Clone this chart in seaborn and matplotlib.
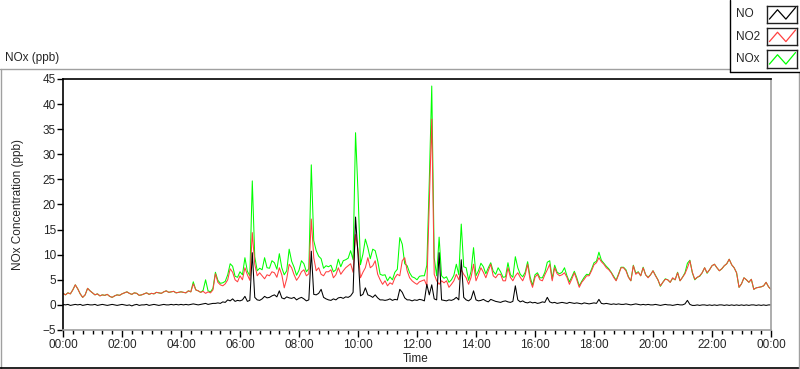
import numpy as np
import pandas as pd
import matplotlib
matplotlib.use("Agg")
import matplotlib.pyplot as plt
from matplotlib.lines import Line2D
from matplotlib.ticker import MultipleLocator, FuncFormatter
import seaborn as sns

# =============================================================================
# DATA (5-minute readings, 00:00 .. 24:00, ppb)
# =============================================================================

minutes = np.arange(0, 24 * 60 + 1, 5)

no2_ppb = [
    2.3, 2.0, 2.4, 2.2, 3.0, 4.0, 3.2, 2.2, 1.5, 2.0, 3.3, 2.8,
    2.4, 2.0, 2.2, 1.8, 2.0, 1.9, 2.1, 1.7, 1.5, 1.8, 2.0, 1.9,
    2.2, 2.4, 2.6, 2.3, 2.1, 2.4, 2.3, 1.9, 2.0, 2.2, 2.4, 2.1,
    2.3, 2.2, 2.5, 2.4, 2.3, 2.6, 2.8, 2.5, 2.6, 2.7, 2.4, 2.5,
    2.6, 2.5, 2.4, 2.8, 2.6, 4.2, 3.0, 2.8, 2.5, 2.7, 2.3, 2.6,
    2.4, 3.0, 6.2, 4.5, 4.0, 3.8, 4.2, 5.0, 7.2, 6.5, 5.0, 4.6,
    5.8, 5.0, 7.4, 6.0, 4.9, 14.4, 8.1, 5.8, 6.4, 5.8, 5.2, 6.0,
    5.8, 6.6, 6.4, 5.5, 7.4, 6.0, 3.4, 5.2, 8.1, 7.4, 6.0, 4.9,
    5.6, 6.6, 7.0, 5.8, 6.2, 17.1, 9.4, 6.8, 7.4, 6.1, 5.8, 6.6,
    6.6, 7.0, 5.4, 6.0, 7.4, 6.1, 6.8, 7.4, 7.8, 8.2, 6.5, 14.0,
    11.0, 5.4, 6.5, 7.4, 9.4, 7.4, 7.8, 8.8, 6.1, 5.0, 4.1, 4.8,
    3.8, 4.4, 4.1, 5.4, 6.1, 5.8, 8.8, 9.4, 6.8, 5.4, 4.8, 4.4,
    4.1, 4.6, 4.8, 5.0, 3.8, 20.7, 37.0, 6.1, 4.8, 4.1, 4.8, 4.4,
    4.8, 3.5, 4.1, 4.8, 6.1, 5.0, 7.0, 6.1, 5.4, 4.1, 5.5, 8.1,
    4.8, 6.0, 7.4, 6.5, 5.4, 6.8, 8.1, 5.8, 5.4, 6.1, 6.1, 4.8,
    4.8, 7.4, 5.5, 4.8, 5.8, 6.4, 5.5, 4.8, 6.0, 8.1, 5.0, 3.5,
    5.5, 6.1, 5.0, 4.8, 6.0, 7.0, 8.1, 4.8, 7.4, 6.2, 5.8, 6.0,
    6.4, 5.5, 4.1, 5.2, 6.4, 5.0, 3.5, 4.5, 5.1, 5.8, 5.8, 6.8,
    8.0, 8.4, 9.4, 8.6, 8.1, 7.4, 7.0, 6.4, 5.5, 4.8, 6.0, 7.4,
    7.4, 6.8, 5.5, 4.8, 7.8, 6.1, 6.5, 5.8, 7.4, 6.0, 5.4, 6.0,
    6.8, 5.8, 5.0, 3.8, 4.5, 5.1, 5.0, 4.5, 5.4, 5.0, 6.4, 4.8,
    5.5, 6.2, 7.4, 8.8, 6.5, 5.1, 5.5, 5.8, 6.4, 7.4, 6.4, 7.0,
    7.8, 8.1, 7.4, 6.8, 7.2, 7.8, 8.2, 9.1, 8.0, 7.4, 6.4, 3.5,
    4.2, 5.4, 5.0, 4.5, 5.1, 3.1, 3.4, 3.5, 3.6, 3.8, 4.5, 3.6,
    3.1,
]

no_ppb = [
    0.1, 0.0, 0.1, -0.1, 0.0, 0.1, 0.0, 0.1, -0.1, 0.0, 0.1, 0.0,
    0.0, 0.1, -0.1, 0.0, 0.1, 0.0, -0.1, 0.0, 0.1, 0.0, -0.1, 0.0,
    0.1, 0.0, -0.1, 0.0, -0.2, 0.0, 0.1, -0.1, 0.0, 0.0, 0.1, -0.1,
    0.0, 0.1, 0.0, -0.1, 0.0, 0.1, 0.0, 0.0, 0.1, 0.0, 0.1, 0.0,
    0.1, 0.0, 0.1, 0.0, 0.1, 0.2, 0.1, 0.0, 0.1, 0.2, 0.3, 0.1,
    0.2, 0.3, 0.3, 0.4, 0.3, 0.6, 0.5, 1.0, 0.8, 1.2, 0.7, 0.9,
    0.8, 1.0, 1.7, 0.7, 0.9, 10.4, 1.5, 1.0, 0.9, 1.2, 1.7, 1.4,
    1.5, 1.8, 2.0, 1.6, 2.8, 1.4, 1.2, 1.6, 1.4, 1.3, 1.5, 1.0,
    1.3, 1.5, 1.2, 0.8, 1.0, 10.7, 2.1, 2.0, 2.3, 3.1, 1.5, 1.2,
    1.0, 0.9, 1.2, 1.0, 1.4, 1.5, 1.3, 1.6, 1.5, 1.8, 2.5, 17.5,
    10.0, 1.8, 2.1, 3.4, 2.0, 1.8, 1.5, 2.0, 1.4, 1.0, 1.0, 0.9,
    1.0, 1.2, 0.9, 1.1, 1.0, 3.1, 2.5, 1.4, 1.0, 1.0, 0.8, 1.0,
    0.9, 1.1, 1.0, 0.8, 4.1, 2.0, 4.0, 1.2, 1.0, 10.4, 1.0, 0.9,
    0.8, 1.0, 0.9, 1.1, 1.5, 1.0, 9.0, 1.5, 1.0, 0.8, 1.2, 2.8,
    1.0, 0.8, 0.9, 1.1, 0.8, 0.6, 1.1, 0.9, 0.7, 0.6, 0.5, 0.7,
    0.8, 0.6, 0.5, 0.7, 3.8, 1.0, 0.6, 0.8, 0.5, 0.4, 0.6, 0.4,
    0.5, 0.3, 0.4, 0.6, 0.5, 1.5, 0.6, 0.4, 0.5, 0.3, 0.4, 0.5,
    0.4, 0.3, 0.5, 0.4, 0.3, 0.4, 0.3, 0.2, 0.4, 0.3, 0.2, 0.3,
    0.4, 0.3, 1.1, 0.3, 0.2, 0.3, 0.2, 0.1, 0.2, 0.1, 0.2, 0.1,
    0.1, 0.2, 0.1, 0.0, 0.1, 0.2, 0.1, 0.0, 0.1, 0.0, 0.1, 0.0,
    0.0, 0.1, 0.0, -0.1, 0.0, 0.1, 0.0, 0.0, -0.1, 0.0, 0.1, 0.0,
    0.0, 0.2, 0.9, 0.1, -0.1, -0.1, 0.0, -0.1, 0.0, 0.0, -0.1, 0.0,
    -0.1, 0.0, -0.1, 0.0, 0.0, -0.1, 0.0, -0.1, 0.0, -0.1, 0.0, -0.1,
    0.0, -0.1, 0.0, -0.1, 0.0, 0.0, -0.1, 0.0, -0.1, 0.0, -0.1, 0.0,
    0.0,
]

nox_ppb = [
    2.3, 2.0, 2.4, 2.2, 3.0, 4.0, 3.2, 2.2, 1.5, 2.0, 3.3, 2.8,
    2.4, 2.0, 2.2, 1.8, 2.0, 1.9, 2.1, 1.7, 1.5, 1.8, 2.0, 1.9,
    2.2, 2.4, 2.6, 2.3, 2.1, 2.4, 2.3, 1.9, 2.0, 2.2, 2.4, 2.1,
    2.3, 2.2, 2.5, 2.4, 2.3, 2.6, 2.8, 2.5, 2.6, 2.7, 2.4, 2.5,
    2.6, 2.5, 2.4, 2.8, 2.6, 4.6, 3.0, 2.8, 2.5, 2.9, 5.0, 2.8,
    2.6, 3.3, 6.5, 4.9, 4.3, 4.4, 4.7, 6.0, 8.2, 7.7, 5.7, 5.5,
    6.6, 6.0, 9.4, 6.7, 5.8, 24.7, 9.6, 6.8, 7.3, 7.0, 9.4, 7.4,
    7.3, 8.8, 8.4, 7.1, 10.2, 7.4, 6.0, 6.8, 11.1, 8.7, 7.5, 5.9,
    6.9, 8.8, 8.2, 6.6, 7.2, 27.9, 12.8, 10.8, 9.7, 9.2, 7.3, 7.8,
    7.6, 7.9, 6.6, 7.0, 9.1, 7.6, 8.8, 9.0, 9.3, 10.8, 9.0, 34.3,
    22.5, 8.0, 10.1, 13.1, 11.4, 9.2, 11.1, 10.8, 8.8, 6.1, 5.9, 6.0,
    4.8, 5.6, 5.0, 6.5, 7.1, 13.4, 12.1, 8.2, 7.8, 6.4, 5.6, 5.4,
    5.0, 5.7, 5.8, 5.8, 7.9, 24.7, 43.6, 9.4, 5.8, 13.5, 5.8, 5.3,
    5.6, 4.5, 5.0, 5.9, 8.1, 6.0, 16.1, 7.6, 7.4, 4.9, 6.7, 11.4,
    5.8, 6.8, 8.3, 7.6, 6.2, 7.4, 8.4, 6.7, 6.1, 7.4, 6.6, 5.5,
    5.6, 8.4, 6.0, 5.5, 9.6, 7.4, 6.1, 5.6, 6.5, 8.6, 5.6, 3.9,
    6.0, 6.4, 5.4, 5.4, 6.5, 8.5, 8.8, 5.2, 7.9, 6.5, 6.2, 6.5,
    7.4, 5.8, 4.6, 5.6, 6.7, 5.4, 3.8, 4.7, 5.5, 6.1, 6.0, 7.1,
    8.4, 8.7, 10.5, 8.9, 8.3, 7.7, 7.2, 6.5, 5.7, 4.9, 6.2, 7.5,
    7.5, 7.0, 5.6, 4.8, 7.9, 6.3, 6.6, 5.8, 7.5, 6.0, 5.5, 6.0,
    6.8, 5.9, 5.0, 3.7, 4.5, 5.2, 5.0, 4.5, 5.3, 5.0, 6.5, 4.8,
    5.5, 6.4, 8.3, 8.9, 6.4, 5.0, 5.5, 5.7, 6.4, 7.4, 6.3, 7.0,
    7.8, 8.1, 7.4, 6.8, 7.2, 7.8, 8.2, 9.1, 8.0, 7.4, 6.4, 3.5,
    4.2, 5.4, 5.0, 4.5, 5.1, 3.1, 3.4, 3.5, 3.6, 3.8, 4.5, 3.6,
    3.1,
]

series_names = ['NO', 'NO2', 'NOx']
series_colors = {'NO': '#000000', 'NO2': '#FF4040', 'NOx': '#00FF00'}

# =============================================================================
# PLOT
# =============================================================================

sns.set_style("white")
plt.rcParams['font.family'] = ['Liberation Sans', 'DejaVu Sans']
plt.rcParams['font.size'] = 8.5

W, H = 800, 369


def fx(px):
    return px / W


def fy(py):
    return 1 - py / H


df = pd.DataFrame({'hour': minutes / 60.0, 'NO': no_ppb, 'NO2': no2_ppb, 'NOx': nox_ppb})

fig = plt.figure(figsize=(8, 3.69), dpi=100)
ax = fig.add_axes([fx(63), fy(330), (771 - 63) / W, (330 - 79) / H])

# NOx underneath, NO2 over it, NO on top
for name in ['NOx', 'NO2', 'NO']:
    sns.lineplot(data=df, x='hour', y=name, color=series_colors[name],
                 linewidth=0.75, estimator=None, ax=ax)

ax.set_xlim(0, 24)
ax.set_ylim(-5, 45)
ax.set_xticks(np.arange(0, 25, 2))
ax.xaxis.set_minor_locator(MultipleLocator(1 / 3))
ax.xaxis.set_major_formatter(FuncFormatter(lambda v, p: f"{int(round(v)) % 24:02d}:00"))
ax.set_yticks(np.arange(-5, 46, 5))
ax.set_xlabel('')
ax.set_ylabel('')
ax.tick_params(axis='x', which='major', direction='out', length=5, width=1,
               color='black', pad=1.5, labelsize=8.5, bottom=True)
ax.tick_params(axis='x', which='minor', direction='out', length=3, width=1,
               color='black', bottom=True)
ax.tick_params(axis='y', direction='out', length=4, width=1, color='black',
               pad=1, labelsize=8.5, left=True)

for side in ['left', 'top']:
    ax.spines[side].set_color('black')
    ax.spines[side].set_linewidth(1.2)
for side in ['right', 'bottom']:
    ax.spines[side].set_color('#A0A0A0')
    ax.spines[side].set_linewidth(1.2)

fig.text(fx(18), fy(205), 'NOx Concentration (ppb)', rotation=90,
         ha='center', va='center', fontsize=8.5)
fig.text(fx(416), fy(359), 'Time', ha='center', va='center', fontsize=8.5)
fig.text(fx(5), fy(58), 'NOx (ppb)', ha='left', va='center', fontsize=8.5)

# outer graph panel
fig.add_artist(Line2D([fx(0), fx(730)], [fy(69), fy(69)], color='#A0A0A0', lw=1))
fig.add_artist(Line2D([fx(1), fx(1)], [fy(69), fy(368)], color='#A0A0A0', lw=1))
fig.add_artist(Line2D([fx(0), fx(800)], [fy(368), fy(368)], color='black', lw=1.2))
fig.add_artist(Line2D([fx(799), fx(799)], [fy(72), fy(368)], color='#A0A0A0', lw=1))

# legend panel
fig.add_artist(Line2D([fx(730), fx(730)], [fy(0), fy(72)], color='black', lw=1))
fig.add_artist(Line2D([fx(730), fx(800)], [fy(72), fy(72)], color='black', lw=1))
for i, name in enumerate(series_names):
    yc = 14 + 22.5 * i
    fig.text(fx(736), fy(yc), name, ha='left', va='center', fontsize=8.5)
    lax = fig.add_axes([fx(767), fy(yc + 8.5), 30 / W, 17 / H])
    lax.plot([0.08, 0.35, 0.63, 0.95], [0.2, 0.75, 0.2, 0.88],
             color=series_colors[name], lw=0.9)
    lax.set_xlim(0, 1)
    lax.set_ylim(0, 1)
    lax.set_xticks([])
    lax.set_yticks([])
    for s in lax.spines.values():
        s.set_color('#202020')
        s.set_linewidth(1)

fig.savefig('out.png', dpi=100)
